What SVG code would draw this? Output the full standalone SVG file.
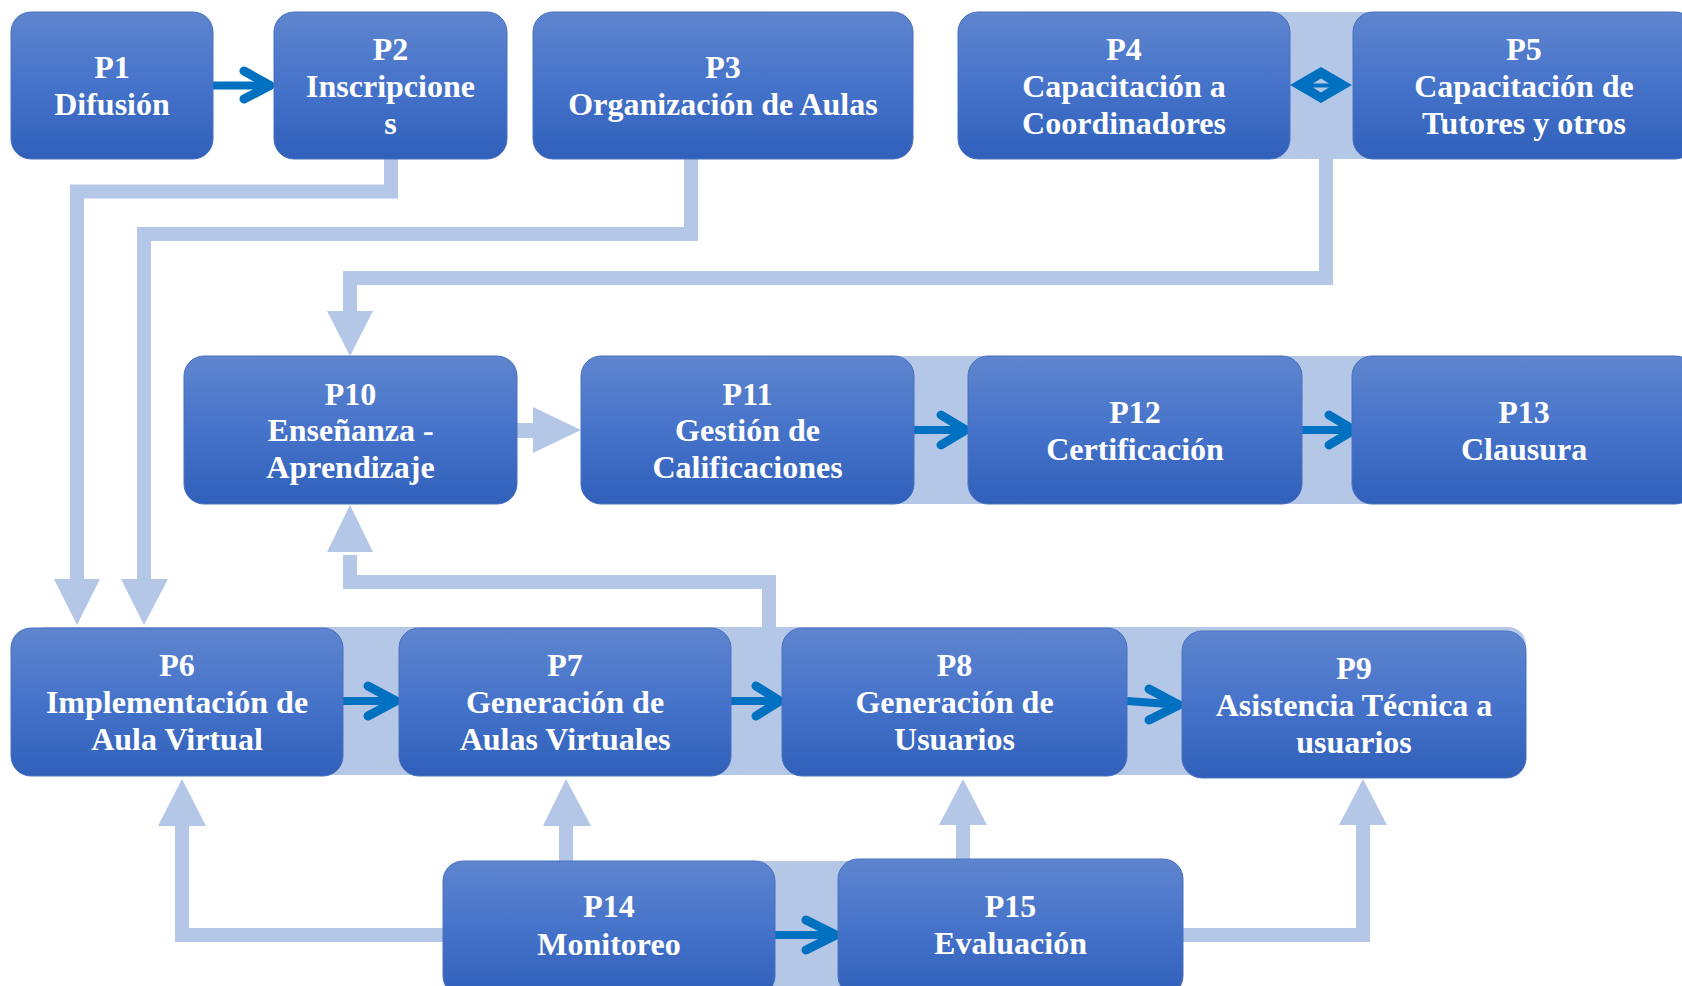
<svg xmlns="http://www.w3.org/2000/svg" width="1682" height="986" viewBox="0 0 1682 986">
<defs>
<linearGradient id="ng" x1="0" y1="0" x2="0" y2="1">
<stop offset="0" stop-color="#5E85CE"/>
<stop offset="0.5" stop-color="#4673CA"/>
<stop offset="1" stop-color="#3060BA"/>
</linearGradient>
<style>
.node rect{fill:url(#ng);stroke:#4A70BF;stroke-width:1}
.node text{fill:#FFFFFF;font-family:"Liberation Serif","Times New Roman",serif;font-weight:bold;font-size:32px;text-anchor:middle}
.band{fill:#B4C7E7}
.lc{fill:none;stroke:#B4C7E7;stroke-width:14;stroke-linejoin:miter}
.lh{fill:#B4C7E7}
.bs{fill:none;stroke:#0070C0;stroke-width:8}
.bc{fill:none;stroke:#0070C0;stroke-width:9;stroke-linecap:round;stroke-linejoin:round}
</style>
</defs>
<rect width="1682" height="986" fill="#FFFFFF"/>
<g id="bands">
<rect class="band" x="1124" y="12" width="400" height="147"/>
<rect class="band" x="750" y="356" width="945" height="148"/>
<rect class="band" x="30" y="627" width="1496" height="148" rx="18"/>
<rect class="band" x="609" y="861" width="401" height="140"/>
</g>
<g id="connectors">
<path class="lc" d="M391,155 V191.5 H77 V582"/>
<polygon class="lh" points="54,579 100,579 77,625"/>
<path class="lc" d="M691,155 V234 H144 V582"/>
<polygon class="lh" points="121,579 168,579 144,625"/>
<path class="lc" d="M1326,155 V278 H350 V314"/>
<polygon class="lh" points="327,311 373,311 350,356"/>
<path class="lc" d="M769,640 V582 H350 V555"/>
<polygon class="lh" points="327,552 373,552 350,505"/>
<path class="lc" d="M450,935 H182 V823"/>
<polygon class="lh" points="158,826 206,826 182,779"/>
<path class="lc" d="M566,865 V823"/>
<polygon class="lh" points="543,826 591,826 566,779"/>
<path class="lc" d="M963,865 V822"/>
<polygon class="lh" points="939,825 987,825 963,779"/>
<path class="lc" d="M1175,935 H1363 V822"/>
<polygon class="lh" points="1339,825 1387,825 1363,779"/>
<rect class="lh" x="515" y="423" width="20" height="15"/>
<polygon class="lh" points="533,407 581,430 533,453"/>
<line class="bs" x1="213" y1="85.5" x2="266" y2="85.5"/>
<polyline class="bc" points="244,71 270,85.5 244,99"/>
<line class="bs" x1="914" y1="430" x2="962" y2="430"/>
<polyline class="bc" points="941,415 966,430 941,445"/>
<line class="bs" x1="1302" y1="430" x2="1350" y2="430"/>
<polyline class="bc" points="1329,415 1354,430 1329,445"/>
<line class="bs" x1="343" y1="701" x2="393" y2="701"/>
<polyline class="bc" points="368,686 396,701 368,716"/>
<line class="bs" x1="731" y1="701" x2="777" y2="701"/>
<polyline class="bc" points="756,686 780,701 756,716"/>
<line class="bs" x1="1127" y1="701" x2="1175" y2="704.5"/>
<polyline class="bc" points="1149,689 1179,705 1149,720"/>
<line class="bs" x1="775" y1="935" x2="832" y2="935"/>
<polyline class="bc" points="806,920 836,935 806,950"/>
<polygon fill="#0070C0" points="1290,85 1321,67 1352,85 1321,103"/>
<polygon fill="#B4C7E7" points="1313,83.5 1321,78.5 1329,83.5"/>
<polygon fill="#B4C7E7" points="1313,87.5 1321,92.5 1329,87.5"/>
</g>
<g id="P1" class="node"><rect x="11" y="12" width="202" height="147" rx="20"/><text x="112" y="78">P1</text><text x="112" y="115">Difusión</text></g>
<g id="P2" class="node"><rect x="274" y="12" width="233" height="147" rx="20"/><text x="390.5" y="60">P2</text><text x="390.5" y="97">Inscripcione</text><text x="390.5" y="134">s</text></g>
<g id="P3" class="node"><rect x="533" y="12" width="380" height="147" rx="20"/><text x="723" y="78">P3</text><text x="723" y="115">Organización de Aulas</text></g>
<g id="P4" class="node"><rect x="958" y="12" width="332" height="147" rx="20"/><text x="1124" y="60">P4</text><text x="1124" y="97">Capacitación a</text><text x="1124" y="134">Coordinadores</text></g>
<g id="P5" class="node"><rect x="1353" y="12" width="342" height="147" rx="20"/><text x="1524" y="60">P5</text><text x="1524" y="97">Capacitación de</text><text x="1524" y="134">Tutores y otros</text></g>
<g id="P10" class="node"><rect x="184" y="356" width="333" height="148" rx="20"/><text x="350.5" y="405">P10</text><text x="350.5" y="441">Enseñanza -</text><text x="350.5" y="478">Aprendizaje</text></g>
<g id="P11" class="node"><rect x="581" y="356" width="333" height="148" rx="20"/><text x="747.5" y="405">P11</text><text x="747.5" y="441">Gestión de</text><text x="747.5" y="478">Calificaciones</text></g>
<g id="P12" class="node"><rect x="968" y="356" width="334" height="148" rx="20"/><text x="1135" y="423">P12</text><text x="1135" y="460">Certificación</text></g>
<g id="P13" class="node"><rect x="1352" y="356" width="343" height="148" rx="20"/><text x="1524" y="423">P13</text><text x="1524" y="460">Clausura</text></g>
<g id="P6" class="node"><rect x="11" y="628" width="332" height="148" rx="20"/><text x="177" y="676">P6</text><text x="177" y="713">Implementación de</text><text x="177" y="750">Aula Virtual</text></g>
<g id="P7" class="node"><rect x="399" y="628" width="332" height="148" rx="20"/><text x="565" y="676">P7</text><text x="565" y="713">Generación de</text><text x="565" y="750">Aulas Virtuales</text></g>
<g id="P8" class="node"><rect x="782" y="628" width="345" height="148" rx="20"/><text x="954.5" y="676">P8</text><text x="954.5" y="713">Generación de</text><text x="954.5" y="750">Usuarios</text></g>
<g id="P9" class="node"><rect x="1182" y="631" width="344" height="147" rx="20"/><text x="1354" y="678.5">P9</text><text x="1354" y="715.5">Asistencia Técnica a</text><text x="1354" y="752.5">usuarios</text></g>
<g id="P14" class="node"><rect x="443" y="861" width="332" height="135" rx="20"/><text x="609" y="917">P14</text><text x="609" y="955">Monitoreo</text></g>
<g id="P15" class="node"><rect x="838" y="859" width="345" height="137" rx="20"/><text x="1010.5" y="917">P15</text><text x="1010.5" y="954">Evaluación</text></g>
</svg>
